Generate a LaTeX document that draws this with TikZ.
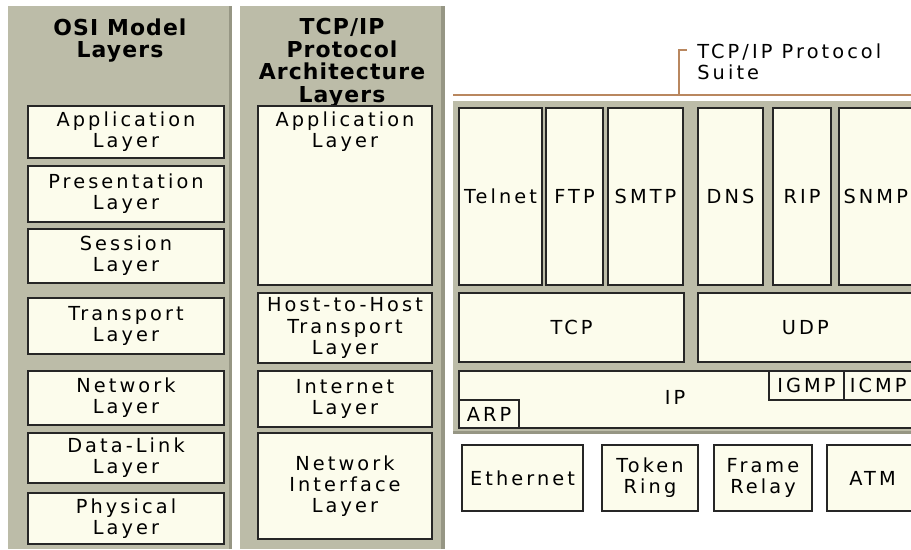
\documentclass[tikz,border=0pt]{standalone}
\usepackage{fontspec}
\setmainfont{DejaVu Sans}
\newfontfamily\boxfont{DejaVu Sans}[LetterSpace=16]
\newfontfamily\headfont{DejaVu Sans}[LetterSpace=5]
\usetikzlibrary{positioning,fit}
\definecolor{panelgray}{RGB}{188,188,168}
\definecolor{paneledge}{RGB}{150,150,132}
\definecolor{boxcream}{RGB}{252,252,236}
\definecolor{suitebrown}{RGB}{185,135,95}
\tikzset{
  txt/.style={inner sep=0pt,align=center,font=\boxfont\fontsize{11}{12}\selectfont},
  layer/.style={draw=black!85,line width=1pt,fill=boxcream,inner sep=0pt,label={[txt]center:{#1}}},
  layer/.default={},
  head/.style={inner sep=0pt,align=center,font=\headfont\bfseries\fontsize{12.5}{12.9}\selectfont},
}
\begin{document}
\begin{tikzpicture}[x=0.02cm,y=-0.02cm]
	\useasboundingbox (0,0) rectangle (911,549);
	\clip (0,0) rectangle (911,549);
	% gray panels
	\fill[panelgray] (8,6) rectangle (232,549);
	\fill[paneledge] (229,6) rectangle (232,549);
	\fill[panelgray] (240,6) rectangle (445,549);
	\fill[paneledge] (441,6) rectangle (445,549);
	\fill[panelgray] (453,101) rectangle (920,434);
	\fill[paneledge] (453,431) rectangle (920,434);
	% headings
	\node[head,anchor=north] (osihead) at (120,18) {OSI Model\\Layers};
	\node[head,anchor=north] (tcphead) at (342,18) {TCP/IP\\Protocol\\Architecture\\Layers};
	% OSI model
	\node[layer={Application\\Layer},fit={(28,106) (224,158)}] (app) {};
	\node[layer={Presentation\\Layer},fit={(28,166) (224,222)}] (pres) {};
	\node[layer={Session\\Layer},fit={(28,229) (224,283)}] (sess) {};
	\node[layer={Transport\\Layer},fit={(28,298) (224,354)}] (trans) {};
	\node[layer={Network\\Layer},fit={(28,371) (224,425)}] (net) {};
	\node[layer={Data-Link\\Layer},fit={(28,433) (224,483)}] (dlink) {};
	\node[layer={Physical\\Layer},fit={(28,493) (224,544)}] (phys) {};
	% TCP/IP architecture
	\node[layer,fit={(258,106) (432,285)}] (tapp) {};
	\node[txt,below=3.5pt of tapp.north] (tapptext) {Application\\Layer};
	\node[layer={Host-to-Host\\Transport\\Layer},fit={(258,293) (432,363)}] (host) {};
	\node[layer={Internet\\Layer},fit={(258,371) (432,427)}] (inet) {};
	\node[layer={Network\\Interface\\Layer},fit={(258,433) (432,539)}] (nif) {};
	% protocol suite
	\coordinate (suiteL) at (453,95);
	\coordinate (suiteR) at (915,95);
	\coordinate (suiteM) at (679,95);
	\coordinate (suiteT) at (679,50);
	\draw[suitebrown,line width=1.2pt] (suiteL) -- (suiteR);
	\draw[suitebrown,line width=1.2pt] (suiteM) -- (suiteT) -- ++(8,0);
	\node[txt,align=left,anchor=north west] (suite) at (697,43) {TCP/IP Protocol\\Suite};
	\node[layer=Telnet,fit={(459,108) (542,285)}] (telnet) {};
	\node[layer=FTP,fit={(546,108) (603,285)}] (ftp) {};
	\node[layer=SMTP,fit={(608,108) (683,285)}] (smtp) {};
	\node[layer=DNS,fit={(698,108) (763,285)}] (dns) {};
	\node[layer=RIP,fit={(773,108) (831,285)}] (rip) {};
	\node[layer=SNMP,fit={(839,108) (912.5,285)}] (snmp) {};
	\node[layer=TCP,fit={(459,293) (684,362)}] (tcp) {};
	\node[layer=UDP,fit={(698,293) (912.5,362)}] (udp) {};
	\node[layer,fit={(459,371) (912.5,428)}] (ip) {};
	\node[txt] (iptext) at (675,397) {IP};
	\node[layer=IGMP,fit={(769,371) (844,400)}] (igmp) {};
	\node[layer=ICMP,fit={(844,371) (912.5,400)}] (icmp) {};
	\node[layer=ARP,fit={(459,400) (519,428)}] (arp) {};
	% network interfaces
	\node[layer=Ethernet,fit={(462,445) (583,511)}] (eth) {};
	\node[layer={Token\\Ring},fit={(602,445) (698,511)}] (token) {};
	\node[layer={Frame\\Relay},fit={(714,445) (812,511)}] (frame) {};
	\node[layer=ATM,fit={(827,445) (918,511)}] (atm) {};
\end{tikzpicture}
\end{document}
